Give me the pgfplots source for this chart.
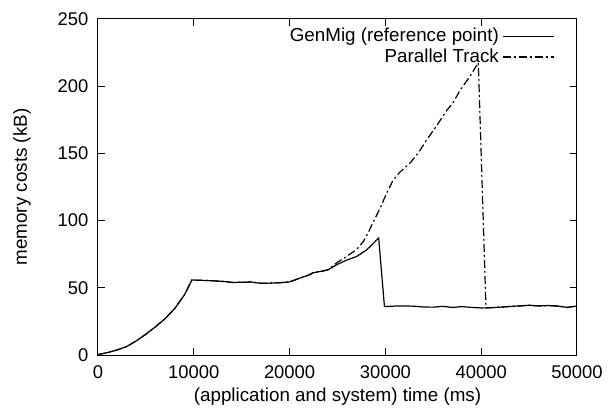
\documentclass[border=0pt]{standalone}
\usepackage{pgfplots}
\pgfplotsset{compat=1.18}
\usetikzlibrary{calc}
\usepackage{fontspec}
\setmainfont{Liberation Sans}
\begin{document}
\fontsize{9.4bp}{11.3bp}\selectfont
\begin{tikzpicture}
\begin{axis}[
  name=ax,
  scale only axis,
  width=239.5bp, height=168bp,
  xmin=0, xmax=50000, ymin=0, ymax=250,
  xtick={0,10000,20000,30000,40000,50000},
  ytick={0,50,100,150,200,250},
  scaled x ticks=false,
  /pgf/number format/assume math mode=true,
  xticklabel={\pgfmathprintnumber[fixed,1000 sep={}]{\tick}},
  tick align=inside,
  major tick length=3.5bp,
  tick style={black, line width=0.5bp},
  axis line style={line width=0.5bp},
  tick label style={font=\fontsize{9.2bp}{11bp}\selectfont},
  xticklabel style={yshift=-2bp},
  yticklabel style={xshift=-1.5bp},
  xlabel={(application and system) time (ms)},
  ylabel={memory costs (kB)},
  label style={font=\fontsize{9.4bp}{11.3bp}\selectfont},
  xlabel style={yshift=2bp},
  ylabel style={yshift=7bp},
  legend plot pos=right,
  legend cell align=right,
  legend style={draw=none, fill=none, at={(rel axis cs:0.955,0.986)}, anchor=north east,
    row sep=-1.9bp, inner sep=0pt, font=\fontsize{9.4bp}{11.3bp}\selectfont},
  legend image code/.code={\draw[#1] (5.5bp,0bp) -- (31bp,0bp);},
]
\addplot[black, line width=0.6bp] coordinates {
(0,0.3)(1000,1.8)(2000,3.8)(3000,6.3)(4000,10.5)(5000,15.5)(6000,21)(7000,27)(8000,34.5)(9000,44.5)(9800,55.8)
(11000,55.5)(12000,55.2)(13000,54.8)(14000,54)(15000,54.1)(16000,54.3)(17000,53.3)(18000,53.5)(19000,53.8)(20000,54.4)
(21000,57)(22000,59.5)(22500,61.3)(23500,62.5)(24000,63.3)(25000,67.5)(26000,70.7)(27000,73.3)(28000,78)(28400,80.6)(29000,85)(29300,87)
(29900,36)(31000,36.4)(32000,36.5)(33000,36.3)(34000,35.7)(35000,35.6)(36000,36.2)(37000,35.4)(38000,36)(39000,35.4)(40000,35)
(41000,35.2)(42000,35.6)(43000,36.1)(44000,36.5)(45000,37)(46000,36.5)(47000,36.8)(48000,36.4)(49000,35.4)(50000,36.5)
};
\addlegendentry{GenMig (reference point)}
\addplot[black, line width=0.6bp, dash pattern=on 4bp off 1.5bp on 1bp off 1.5bp] coordinates {
(0,0.3)(1000,1.8)(2000,3.8)(3000,6.3)(4000,10.5)(5000,15.5)(6000,21)(7000,27)(8000,34.5)(9000,44.5)(9800,55.8)
(11000,55.5)(12000,55.2)(13000,54.8)(14000,54)(15000,54.1)(16000,54.3)(17000,53.3)(18000,53.5)(19000,53.8)(20000,54.4)
(21000,57)(22000,59.5)(22500,61.3)(23500,62.5)(24000,63.5)(25000,69)(26000,73.5)(27000,78.5)(27700,84.5)(28200,91)(28700,98.5)
(29500,110)(30100,120)(30800,130)(31500,136)(32600,143)(33500,151)(34300,160)(35300,170)(36400,182)(37000,187)(37800,197)
(38800,207)(39700,217.5)
(40500,35)(41000,35.2)(42000,35.6)(43000,36.1)(44000,36.5)(45000,37)(46000,36.5)(47000,36.8)(48000,36.4)(49000,35.4)(50000,36.5)
};
\addlegendentry{Parallel Track}
\end{axis}
\path ($(ax.south west)+(-49bp,-31bp)$) rectangle ($(ax.north east)+(16.5bp,9.5bp)$);
\end{tikzpicture}
\end{document}
